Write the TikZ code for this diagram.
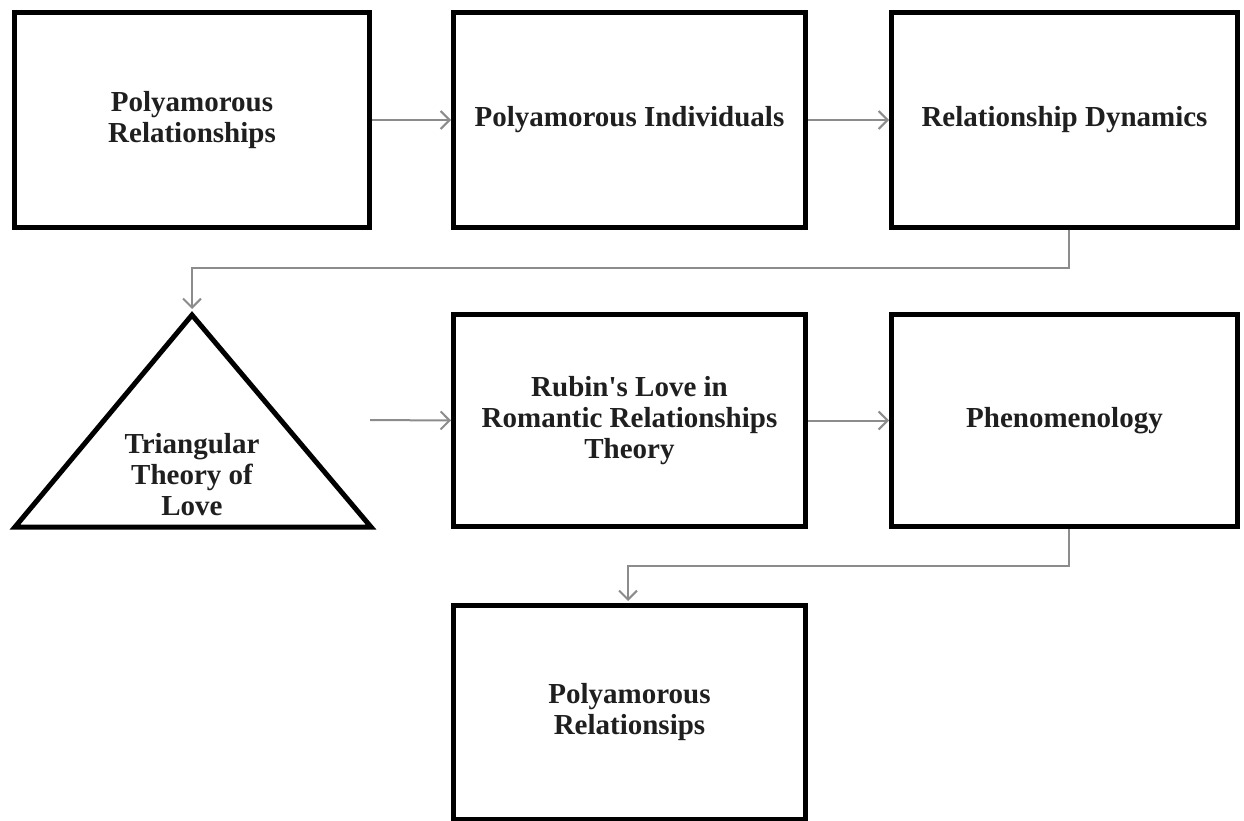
\documentclass[tikz,border=0pt]{standalone}
\usepackage{fontspec}
\setmainfont{Liberation Serif}
\usetikzlibrary{arrows.meta}

\tikzset{
  box/.style={draw=black,line width=5pt,minimum width=352pt,minimum height=214pt,
    align=center,font=\fontsize{29}{31}\selectfont\bfseries,text=black!88},
  link/.style={draw=black!45,line width=2pt,-{Straight Barb[length=9pt,width=18pt]}}
}

\begin{document}
\begin{tikzpicture}[x=1pt,y=-1pt]
  \useasboundingbox (0,0) rectangle (1244,821);
  % top row
  \node[box,minimum width=355pt] (rel) at (192,120) {Polyamorous\\Relationships};
  \node[box] (ind) at (629.5,120) {Polyamorous Individuals};
  \node[box,minimum width=346pt] (dyn) at (1064.5,120) {Relationship Dynamics};
  % middle row
  \draw[line width=5pt,line join=miter] (192,315) -- (371,527) -- (15,527) -- cycle;
  \coordinate (apex) at (192,309);
  \coordinate (tri) at (370,420);
  \node[align=center,font=\fontsize{29}{31}\selectfont\bfseries,text=black!88] (tlabel) at (192,475) {Triangular\\Theory of\\Love};
  \node[box,minimum height=212pt] (rubin) at (629.5,420.5) {Rubin\textquotesingle s Love in\\Romantic Relationships\\Theory};
  \node[box,minimum width=346pt,minimum height=212pt] (phen) at (1064.5,420.5) {Phenomenology};
  % bottom
  \node[box] (last) at (629.5,712) {Polyamorous\\Relationsips};
  % connectors
  \draw[link] (rel.east) -- (ind.west);
  \draw[link] (ind.east) -- (dyn.west);
  \draw[link] (dyn.south) ++(4.5,0) |- (192,268) -- (apex);
  \draw[link] (tri) -- (rubin.west);
  \draw[link] (rubin.east) -- (phen.west);
  \draw[link] (phen.south) ++(4.5,0) |- (628,566) -- (628,601);
\end{tikzpicture}
\end{document}
